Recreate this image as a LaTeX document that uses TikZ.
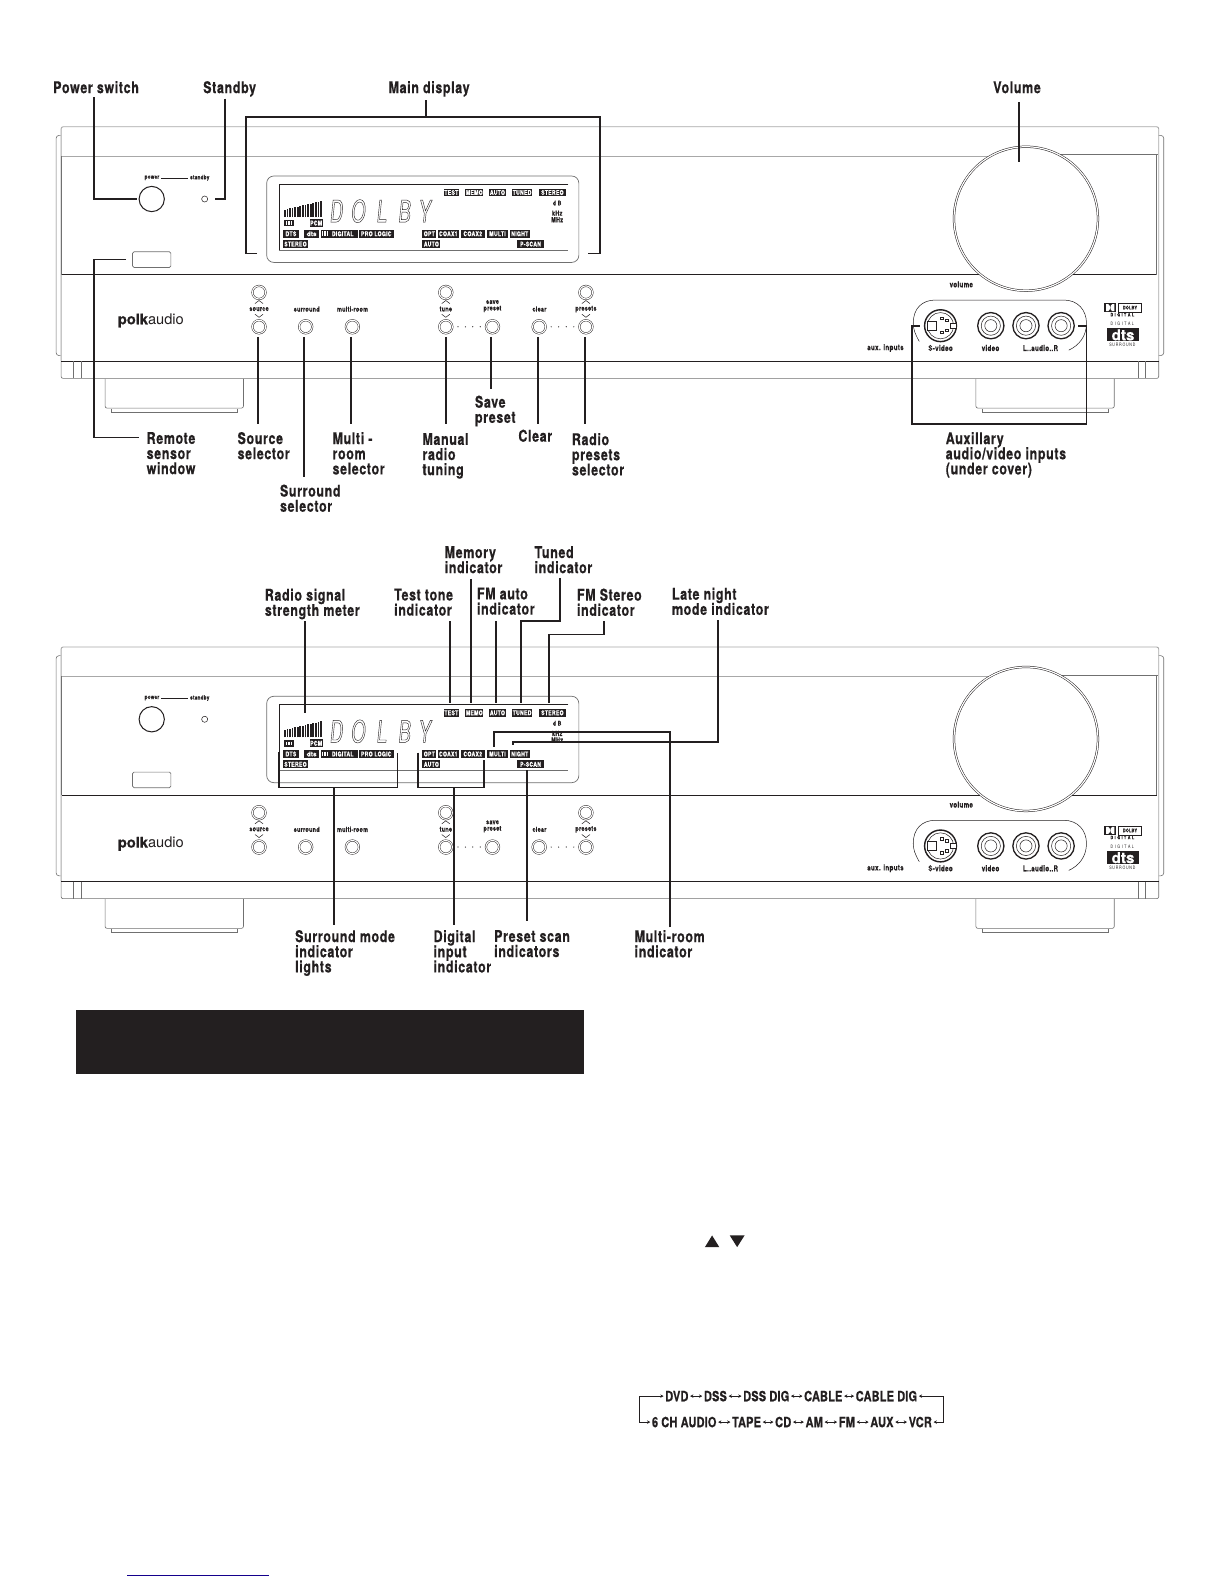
\documentclass[tikz,border=0pt]{standalone}
\usepackage{fontspec}
\usetikzlibrary{arrows.meta}
\setmainfont[FakeStretch=0.77,LetterSpace=4,BoldFeatures={FakeBold=0.5}]{TeX Gyre Heros}
\newfontfamily\logofont[BoldFeatures={FakeBold=0.6}]{TeX Gyre Heros}
\newfontfamily\segfont[FakeStretch=0.6]{TeX Gyre Heros}
\newfontfamily\chainfont[FakeStretch=0.78,LetterSpace=1,BoldFeatures={FakeBold=0.5}]{TeX Gyre Heros}
\newcommand{\lblfont}{\fontsize{16}{15}\selectfont\bfseries\lineskiplimit -100pt\relax}
\definecolor{ink}{HTML}{231F20}
\definecolor{greyline}{HTML}{A8A8A8}
\definecolor{midline}{HTML}{707070}
\definecolor{navy}{HTML}{14008C}
\tikzset{
  lbl/.style={font=\lblfont,text=ink,align=left,anchor=north west,inner sep=0pt,yshift=1.5pt,execute at begin node=\rule{0pt}{12.5pt}},
  chain/.style={font=\chainfont\fontsize{14}{15}\selectfont\bfseries,text=ink,inner sep=0pt,anchor=center},
  call/.style={draw=ink,line width=1.7pt},
  btn/.style={circle,draw=ink,line width=.45pt,double=white,double distance=1.1pt,minimum size=13pt,inner sep=0pt,fill=white},
  jack/.style={circle,draw=ink,line width=1.3pt,minimum size=26pt,inner sep=0pt,fill=white},
  tiny/.style={font=\fontsize{7}{7}\selectfont\bfseries,text=ink,inner sep=0pt,align=center},
  auxl/.style={font=\fontsize{8}{8}\selectfont\bfseries,text=ink,inner sep=0pt},
  ind/.style={fill=ink,text=white,font=\fontsize{6.6}{7}\selectfont\bfseries,inner sep=0pt,minimum height=7.6pt},
  dtxt/.style={font=\fontsize{7}{7}\selectfont\bfseries,text=ink,inner sep=0pt},
  thin/.style={draw=ink,line width=.5pt},
  grey/.style={draw=greyline,line width=.9pt},
  mid/.style={draw=midline,line width=.6pt},
  dark/.style={draw=ink,line width=1pt},
}
\newcommand{\indic}[4]{\node[ind,minimum width=#3pt] at (#1,#2) {#4};}
\newcommand{\chev}[3]{%
  \draw[thin] (#1-4,#2+1.5) -- (#1,#2-1.5) -- (#1+4,#2+1.5);
  \draw[thin] (#1-4,#3-1.5) -- (#1,#3+1.5) -- (#1+4,#3-1.5);}
% #1 = y of the polkaudio logo, #2 = vertical offset of the Dolby/dts logos
\newcommand{\devicebody}[2]{%
  % feet
  \draw[mid,rounded corners=2pt] (104,375) -- (104,404) -- (241,404) -- (241,375);
  \draw[mid] (110,405) -- (110,408) -- (235,408) -- (235,405);
  \draw[mid,rounded corners=2pt] (966,375) -- (966,404) -- (1103,404) -- (1103,375);
  \draw[mid] (972,405) -- (972,408) -- (1097,408) -- (1097,405);
  % side caps
  \draw[mid,rounded corners=3pt] (60,134) -- (55.5,134) -- (55.5,352) -- (60,352);
  \draw[mid,rounded corners=3pt] (1147,134) -- (1152,134) -- (1152,352) -- (1147,352);
  % case
  \draw[grey,rounded corners=2pt] (60.5,357) -- (60.5,125.5) -- (1147,125.5) -- (1147,357);
  \draw[mid,rounded corners=2pt] (60.5,357) -- (60.5,374.6) -- (1147,374.6) -- (1147,357);
  \draw[grey] (61,154.5) -- (1000,154.5);
  \draw[mid] (1020,153) -- (1146,153);
  \draw[dark] (61,272) -- (1145,272);
  \draw[mid] (61,154.5) -- (61,272);
  \draw[mid] (1145,153) -- (1145,272);
  \draw[dark] (60.5,357.6) -- (1147,357.6);
  \foreach \vx in {73,80.5,1126.5,1134} {\draw[mid] (\vx,357.6) -- (\vx,374.6);}
  % volume knob
  \node[circle,draw=ink,line width=.5pt,double=white,double distance=1.2pt,fill=white,minimum size=142.5pt,inner sep=0pt] (knob) at (1015.6,216.5) {};
  \node[auxl] (vollbl) at (951.6,281.5) {volume};
  % power
  \node[circle,draw=ink,line width=1pt,minimum size=25pt,inner sep=0pt] (power) at (150.2,197) {};
  \node[circle,draw=ink,line width=.5pt,minimum size=6pt,inner sep=0pt] (led) at (202.6,197) {};
  \node[tiny,font=\fontsize{6}{6}\selectfont\bfseries] (pwl) at (150.4,176) {power};
  \node[tiny,font=\fontsize{6}{6}\selectfont\bfseries] (sbl) at (197.7,176) {standby};
  \draw[thin] ([xshift=1.5]pwl.east) -- ([xshift=-1.5]sbl.west);
  \node[draw=midline,line width=.6pt,rounded corners=1.5pt,minimum width=38pt,minimum height=15.5pt,inner sep=0pt] (sensor) at (150.2,257) {};
  % display
  \node[draw=midline,line width=.7pt,rounded corners=7pt,minimum width=309pt,minimum height=85.5pt,inner sep=0pt] (lcd) at (418.5,217) {};
  \draw[thin] (562.6,182) -- (276,182) -- (276,247.6);
  \draw[mid] (276,247.6) -- (562.6,247.6);
  \indic{446.8}{190.6}{15.5}{TEST}
  \indic{469.5}{190.6}{18}{MEMO}
  \indic{492.4}{190.6}{16.7}{AUTO}
  \indic{516.8}{190.6}{20.4}{TUNED}
  \indic{546.8}{190.6}{26.3}{STEREO}
  \node[dtxt,font=\fontsize{6.5}{7}\selectfont\bfseries] at (551.5,201) {d B};
  \node[dtxt] at (551.5,211) {kHz};
  \node[dtxt] at (551.5,217.5) {MHz};
  \foreach \bi in {0,...,14} {
    \pgfmathsetmacro{\bx}{282+\bi*2.55}
    \pgfmathsetmacro{\by}{207.5-\bi*0.6}
    \draw[draw=ink,line width=1.7pt] (\bx,215) -- (\bx,\by);
  }
  \node[ind,minimum width=10.5pt,minimum height=6pt] at (286,221) {};
  \draw[white,line width=.7pt] (283.3,219.2) -- (283.3,222.8) (285.4,219.2) -- (285.4,222.8) (286.6,219.2) -- (286.6,222.8) (288.7,219.2) -- (288.7,222.8);
  \indic{313}{220.8}{12.5}{PCM}
  \indic{288}{231.4}{16}{DTS}
  \indic{308.5}{231.4}{15}{\logofont\bfseries dts}
  \indic{336}{231.4}{36}{\quad DIGITAL}
  \draw[white,line width=.6pt] (319.5,229) -- (319.5,233.8) (321.4,229) -- (321.4,233.8) (322.4,229) -- (322.4,233.8) (324.3,229) -- (324.3,233.8);
  \indic{372.5}{231.4}{35}{PRO LOGIC}
  \indic{425}{231.4}{14}{OPT}
  \indic{443.8}{231.4}{20.5}{COAX1}
  \indic{468}{231.4}{24}{COAX2}
  \indic{492.5}{231.4}{20}{MULTI}
  \indic{514.5}{231.4}{20}{NIGHT}
  \indic{292.5}{241.6}{25}{STEREO}
  \indic{427}{241.6}{18}{AUTO}
  \indic{525.2}{241.6}{27.5}{P-SCAN}
  % segmented letters
  \node[inner sep=0pt,font=\segfont\fontsize{30}{30}\selectfont,text=ink,xslant=.1,transform shape] (seg) at (376.9,209)
     {\makebox[0pt]{\textcolor{white}{.}}\special{pdf:code 1 Tr 0.4 w}\makebox[21.5pt]{D}\makebox[21.7pt]{O}\makebox[25pt]{L}\makebox[20pt]{B}\makebox[20pt]{Y}\special{pdf:code 0 Tr}};
  % buttons row
  \node[btn] (b-srcu) at (256.4,289.5) {};
  \node[btn] (b-srcd) at (256.4,323.5) {};
  \node[btn] (b-sur) at (302.6,323.5) {};
  \node[btn] (b-mul) at (348.8,323.5) {};
  \node[btn] (b-tunu) at (441.3,289.5) {};
  \node[btn] (b-tund) at (441.3,323.5) {};
  \node[btn] (b-sav) at (487.5,323.5) {};
  \node[btn] (b-clr) at (533.7,323.5) {};
  \node[btn] (b-preu) at (580,289.5) {};
  \node[btn] (b-pred) at (580,323.5) {};
  \chev{256.4}{299}{312.6}
  \chev{441.3}{299}{312.6}
  \chev{580}{299}{312.6}
  \node[tiny] at (256.4,306) {source};
  \node[tiny] at (303.6,306) {surround};
  \node[tiny] at (349,306) {multi-room};
  \node[tiny] at (441.3,306) {tune};
  \node[tiny,font=\fontsize{7}{6.5}\selectfont\bfseries] at (487.5,303) {save\\preset};
  \node[tiny] at (534,306) {clear};
  \node[tiny] at (580,306) {presets};
  \foreach \dx in {453.4,460.7,468,475.4,545.6,553,560.5,568} {\fill[ink] (\dx,323.5) circle[radius=.6];}
  % logo
  \node[inner sep=0pt,text=ink,anchor=base west] (logo) at (116.5,#1) {\logofont\fontsize{14.5}{16}\selectfont\bfseries polk\mdseries audio};
  % aux panel
  \draw[thin] (910,338) .. controls (906,331) and (904,326) .. (904,320) .. controls (904,305) and (913,297) .. (926,297) -- (1053,297) .. controls (1067,297) and (1075.5,307) .. (1075.5,320) .. controls (1075.5,333) and (1068,342) .. (1058,346.6);
  \node[circle,draw=ink,line width=1.4pt,minimum size=31.5pt,inner sep=0pt,fill=white] (svid) at (931,322.4) {};
  \draw[thin] (931,322.4) circle[radius=13];
  \draw[thin,fill=white] (918,318) rectangle (927,327);
  \draw[thin,fill=white] (941,319.5) rectangle (946.5,325);
  \foreach \pa/\pb in {932/315,937/317,932/329,937/327} {\draw[thin] (\pa-1.3,\pb-1.3) rectangle (\pa+1.3,\pb+1.3);}
  \foreach \jx/\jn in {980.8/jv,1015.6/jl,1050.4/jr} {
    \node[jack] (\jn) at (\jx,322.4) {};
    \draw[thin] (\jx,322.4) circle[radius=9.5];
    \draw[thin] (\jx,322.4) circle[radius=6];
  }
  \node[auxl] at (876.5,344.5) {aux. inputs};
  \node[auxl] at (931,344.5) {S-video};
  \node[auxl] at (980.5,344.5) {video};
  \node[auxl] at (1030,344.5) {L..audio..R};
  % dolby / dts logos
  \begin{scope}[shift={(0,#2)}]
  \fill[ink] (1093,300) rectangle (1105,309);
  \fill[white] (1097,301) .. controls (1099.5,302) and (1099.5,307) .. (1097,308) -- (1095,308) -- (1095,301) -- cycle;
  \fill[white] (1101,301) .. controls (1098.5,302) and (1098.5,307) .. (1101,308) -- (1103,308) -- (1103,301) -- cycle;
  \node[draw=ink,line width=.5pt,minimum width=22.5pt,minimum height=9pt,inner sep=0pt,font=\fontsize{5}{5}\selectfont\bfseries,text=ink] at (1118.5,304.5) {DOLBY};
  \node[tiny,font=\fontsize{4.6}{5}\selectfont\bfseries] at (1111,311.5) {D\,\,I\,\,G\,\,I\,\,T\,\,A\,\,L};
  \node[tiny,font=\fontsize{4.6}{5}\selectfont\mdseries] at (1111,320.8) {D\,\,I\,\,G\,\,I\,\,T\,\,A\,\,L};
  \node[fill=ink,text=white,minimum width=31.5pt,minimum height=13pt,inner sep=0pt,font=\logofont\fontsize{15}{15}\selectfont\bfseries] at (1111.7,331.5) {dts};
  \node[tiny,font=\fontsize{4.6}{5}\selectfont\mdseries] at (1111,341.7) {S\,U\,R\,R\,O\,U\,N\,D};
  \end{scope}
}
\begin{document}
\begin{tikzpicture}[x=1pt,y=-1pt]
\useasboundingbox (0,0) rectangle (1212,1568);
\fill[white] (0,0) rectangle (1212,1568);

\begin{scope}[name prefix=a-]
  \devicebody{321}{0}
\end{scope}
\begin{scope}[shift={(0,515)},name prefix=c-]
  \devicebody{324}{2.5}
\end{scope}

% ---- top callouts ----
\node[lbl] (l-power) at (52.5,81) {Power switch};
\node[lbl] (l-standby) at (201,81) {Standby};
\node[lbl] (l-main) at (384.5,81) {Main display};
\node[lbl] (l-volume) at (983,81) {Volume};
\node[lbl] (l-remote) at (145,429) {Remote\\sensor\\window};
\node[lbl] (l-source) at (235,429) {Source\\selector};
\node[lbl] (l-surr) at (277,481) {Surround\\selector};
\node[lbl] (l-multi) at (329,429) {Multi -\\room\\selector};
\node[lbl] (l-manual) at (418,430) {Manual\\radio\\tuning};
\node[lbl] (l-save) at (470,393) {Save\\preset};
\node[lbl] (l-clear) at (513,426) {Clear};
\node[lbl] (l-radio) at (566,430) {Radio\\presets\\selector};
\node[lbl] (l-aux) at (936,429) {Auxillary\\audio/video inputs\\(under cover)};

\coordinate (c1) at (92.7,96.3);
\coordinate (c2) at (222.8,97.7);
\coordinate (c3) at (421.6,99);
\coordinate (c4) at (1008.8,101.3);
\draw[call] (c1) |- ([xshift=-2]a-power.west);
\draw[call] (c2) |- ([xshift=7]a-led.east);
\draw[call] (c3) -- (421.6,115.5);
\draw[call] (254.5,250.9) -| (243.5,115.5) -- (594,115.5) |- (582,250.9);
\draw[call] (c4) -- (1008.8,160);
\draw[call] ([xshift=-6]a-sensor.west) -| (92.7,433) -- (138,433);
\foreach \cx/\cy in {255.5/420,301/472,347.4/420,441.3/420,486/385,532.6/420,579.2/420} {
  \draw[call] (\cx,333.4) -- (\cx,\cy);
}
\draw[call] (910.6,322.8) -- (903,322.8) -- (903,420) -- (1075.6,420) -- (1075.6,322.8) -- (1067.4,322.8);

% ---- second callouts ----
\node[lbl] (m-radio) at (262,584) {Radio signal\\strength meter};
\node[lbl] (m-test) at (390,584) {Test tone\\indicator};
\node[lbl] (m-memory) at (440,542) {Memory\\indicator};
\node[lbl] (m-fm) at (472,583) {FM auto\\indicator};
\node[lbl] (m-tuned) at (529,542) {Tuned\\indicator};
\node[lbl] (m-stereo) at (571,584) {FM Stereo\\indicator};
\node[lbl] (m-late) at (665,583) {Late night\\mode indicator};
\node[lbl] (m-sml) at (292,922) {Surround mode\\indicator\\lights};
\node[lbl] (m-dig) at (429,922) {Digital\\input\\indicator};
\node[lbl] (m-pre) at (489,922) {Preset scan\\indicators};
\node[lbl] (m-mr) at (628,922) {Multi-room\\indicator};

\draw[call] (302,615) -- (302,706);
\draw[call] (445.6,615) -- (445.6,696);
\draw[call] (466,573) -- (466,696);
\draw[call] (490.8,615) -- (490.8,696);
\draw[call] (554,572) |- (515.5,615) -- (515.5,696);
\draw[call] (598,615) |- (543.3,628) -- (543.3,696);
\draw[call] (711,614) |- (507.6,734.4) -- (507.6,737.7);
\draw[call] (663,918) |- (489,724.5) -- (489,739.3);
\draw[call] (521.8,762.5) -- (521.8,912);
\draw[call] (276.3,744) |- (393.4,779.6) -- (393.4,745.3);
\draw[call] (330.7,779.6) -- (330.7,916);
\draw[call] (413.6,745) |- (479.2,779.6) -- (479.2,752.6);
\draw[call] (449.5,779.6) -- (449.5,916);

% ---- black banner ----
\fill[ink] (75,1000) rectangle (578,1063);

% ---- triangles ----
\fill[ink] (697.8,1234.5) -- (704.9,1223) -- (712,1234.5) -- cycle;
\fill[ink] (722.4,1223) -- (737,1223) -- (729.7,1234.5) -- cycle;

% ---- source chain ----
\node[chain] (n-dvd) at (670,1382) {DVD};
\node[chain] (n-dss) at (708.2,1382) {DSS};
\node[chain] (n-dssd) at (758.5,1382) {DSS DIG};
\node[chain] (n-cab) at (815,1382) {CABLE};
\node[chain] (n-cabd) at (877.5,1382) {CABLE DIG};
\node[chain] (n-ch) at (677.3,1407.7) {6 CH AUDIO};
\node[chain] (n-tape) at (739,1407.7) {TAPE};
\node[chain] (n-cd) at (775.3,1407.7) {CD};
\node[chain] (n-am) at (806,1407.7) {AM};
\node[chain] (n-fm) at (838.3,1407.7) {FM};
\node[chain] (n-aux) at (873,1407.7) {AUX};
\node[chain] (n-vcr) at (911,1407.7) {VCR};
\tikzset{lk/.style={draw=ink,line width=.6pt,{Stealth[length=3.2pt,width=3.4pt]}-{Stealth[length=3.2pt,width=3.4pt]},shorten <=1.5pt,shorten >=1.5pt}}
\foreach \pa/\pb in {dvd/dss,dss/dssd,dssd/cab,cab/cabd,ch/tape,tape/cd,cd/am,am/fm,fm/aux,aux/vcr} {
  \draw[lk] (n-\pa.east) -- (n-\pb.west);
}
\draw[lk] (n-dvd.west) -- ++(-25,0) |- (n-ch.west);
\draw[lk] (n-cabd.east) -- ++(25.7,0) |- (n-vcr.east);

% ---- footnote rule ----
\draw[navy,line width=.8pt] (126,1559.5) -- (266.5,1559.5);
\end{tikzpicture}
\end{document}
